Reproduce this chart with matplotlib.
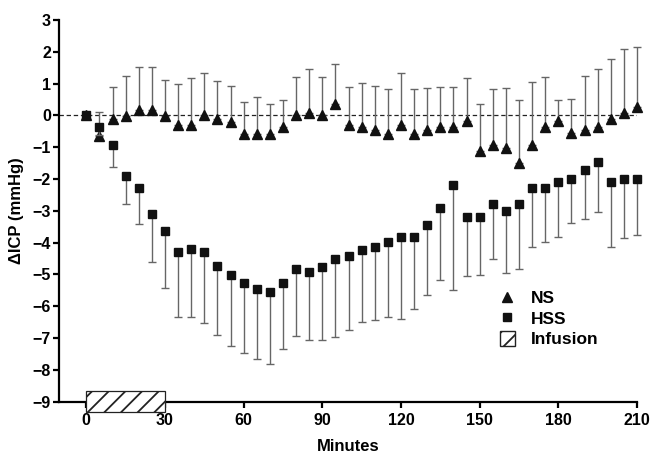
import numpy as np
import matplotlib
matplotlib.use("Agg")
import matplotlib.pyplot as plt
from matplotlib.lines import Line2D
from matplotlib.patches import Patch, Rectangle

plt.rcParams['font.family'] = ['Liberation Sans', 'DejaVu Sans']
plt.rcParams['font.weight'] = 'bold'
plt.rcParams['hatch.linewidth'] = 1.3

minutes = [0, 5, 10, 15, 20, 25, 30, 35, 40, 45, 50, 55, 60, 65, 70, 75, 80, 85, 90, 95,
           100, 105, 110, 115, 120, 125, 130, 135, 140, 145, 150, 155, 160, 165, 170, 175,
           180, 185, 190, 195, 200, 205, 210]

ns_mean = [0, -0.66, -0.11, -0.01, 0.17, 0.17, -0.01, -0.30, -0.30, 0.0, -0.10, -0.20,
           -0.58, -0.58, -0.58, -0.37, 0.0, 0.07, 0.0, 0.35, -0.30, -0.37, -0.46, -0.58,
           -0.30, -0.58, -0.46, -0.37, -0.37, -0.19, -1.12, -0.93, -1.02, -1.49, -0.93,
           -0.37, -0.19, -0.56, -0.46, -0.37, -0.10, 0.07, 0.25]
ns_upper = [0, 0.12, 0.88, 1.25, 1.53, 1.53, 1.12, 0.98, 1.17, 1.34, 1.08, 0.94,
            0.43, 0.58, 0.37, 0.50, 1.21, 1.47, 1.21, 1.63, 0.90, 1.03, 0.93, 0.84,
            1.33, 0.84, 0.86, 0.90, 0.90, 1.19, 0.37, 0.82, 0.85, 0.48, 1.06,
            1.20, 0.48, 0.51, 1.24, 1.47, 1.78, 2.10, 2.16]

hss_mean = [0, -0.35, -0.92, -1.91, -2.27, -3.09, -3.64, -4.28, -4.19, -4.28, -4.73, -5.01,
            -5.28, -5.46, -5.55, -5.28, -4.83, -4.93, -4.77, -4.51, -4.41, -4.24, -4.15,
            -3.99, -3.82, -3.82, -3.46, -2.91, -2.18, -3.19, -3.19, -2.80, -3.00, -2.80,
            -2.27, -2.27, -2.08, -2.00, -1.72, -1.46, -2.08, -2.00, -2.00]
hss_lower = [0, -0.62, -1.62, -2.79, -3.41, -4.62, -5.43, -6.33, -6.34, -6.52, -6.91, -7.25,
             -7.46, -7.65, -7.82, -7.33, -6.94, -7.06, -7.05, -6.96, -6.76, -6.50, -6.44,
             -6.34, -6.41, -6.10, -5.64, -5.19, -5.50, -5.06, -5.02, -4.50, -4.97, -4.82,
             -4.15, -3.98, -3.81, -3.38, -3.27, -3.05, -4.13, -3.85, -3.77]

infusion_start, infusion_end = 0, 30
x_ticks = [0, 30, 60, 90, 120, 150, 180, 210]
y_ticks = list(range(-9, 4))

t = np.array(minutes)
nsm = np.array(ns_mean)
nsu = np.array(ns_upper)
hm = np.array(hss_mean)
hl = np.array(hss_lower)

fig = plt.figure(figsize=(6.53, 4.58), dpi=100)
ax = fig.add_axes([0.0908, 0.123, 0.8847, 0.8333])

ax.axhline(0, color='#222222', lw=0.9, ls=(0, (3.5, 2.2)), zorder=1)


def unclip(container):
    for a in container.lines[1] + container.lines[2]:
        a.set_clip_on(False)


ecol = '#666666'
c1 = ax.errorbar(t, nsm, yerr=[np.zeros_like(nsm), nsu - nsm], fmt='none',
                 ecolor=ecol, elinewidth=1.0, capsize=3.2, capthick=1.0, zorder=2)
unclip(c1)
ax.plot(t, nsm, ls='none', marker='^', ms=6.5, color='#111111', zorder=3, clip_on=False)

c2 = ax.errorbar(t, hm, yerr=[hm - hl, np.zeros_like(hm)], fmt='none',
                 ecolor=ecol, elinewidth=1.0, capsize=3.2, capthick=1.0, zorder=4)
unclip(c2)
ax.plot(t, hm, ls='none', marker='s', ms=5.5, color='#111111', zorder=5, clip_on=False)

rect = Rectangle((infusion_start, -9.33), infusion_end - infusion_start, 0.65,
                 facecolor='white', edgecolor='#222222', hatch='//', lw=0.9,
                 clip_on=False, zorder=6)
ax.add_patch(rect)

ax.set_xlim(-10.3, 210)
ax.set_ylim(-9, 3)
ax.set_xticks(x_ticks)
ax.set_yticks(y_ticks)
ax.spines['top'].set_visible(False)
ax.spines['right'].set_visible(False)
for s in ['left', 'bottom']:
    ax.spines[s].set_linewidth(1.6)
ax.tick_params(direction='out', length=4, width=1.6, labelsize=11.5)
ax.tick_params(axis='x', pad=4)
ax.tick_params(axis='y', pad=2)
for lab in ax.get_xticklabels() + ax.get_yticklabels():
    lab.set_fontweight('bold')

ax.set_xlabel('Minutes', fontsize=12, fontweight='bold', labelpad=8)
ax.set_ylabel('ΔICP (mmHg)', fontsize=12, fontweight='bold', labelpad=6)

handles = [Line2D([], [], ls='none', marker='^', ms=6.5, color='#111111'),
           Line2D([], [], ls='none', marker='s', ms=5.5, color='#111111'),
           Patch(facecolor='white', edgecolor='#222222', hatch='//')]
leg = ax.legend(handles, ['NS', 'HSS', 'Infusion'], loc='upper left',
                bbox_to_anchor=(0.735, 0.333), frameon=False,
                prop={'weight': 'bold', 'size': 12.5}, handlelength=0.9,
                handleheight=0.9, handletextpad=0.9, labelspacing=0.25)

fig.savefig('out.png', dpi=100)
